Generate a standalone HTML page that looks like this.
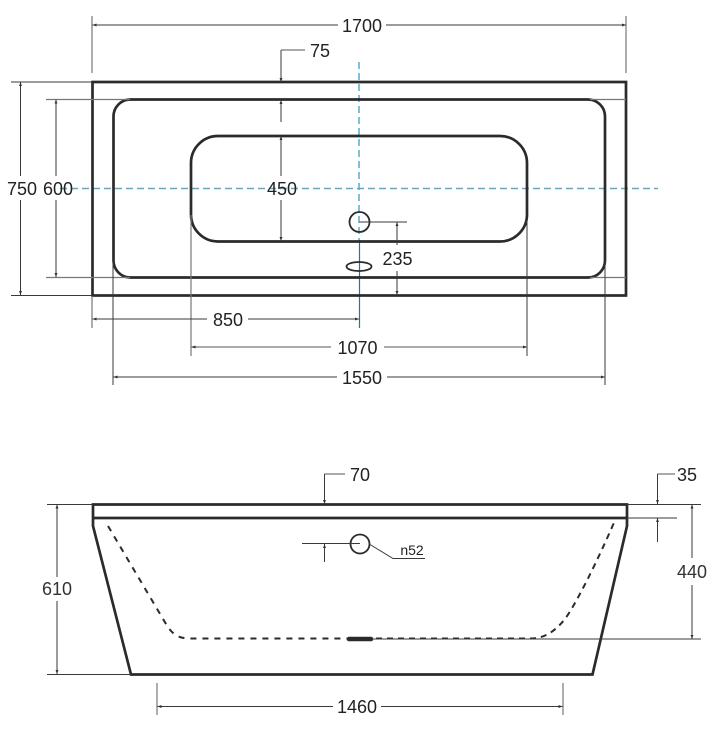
<!DOCTYPE html>
<html><head><meta charset="utf-8"><style>
html,body{margin:0;padding:0;background:#fff;width:719px;height:730px;overflow:hidden}
svg{display:block}
text{font-family:"Liberation Sans",sans-serif;font-size:18px;fill:#222;text-anchor:middle}
.o{fill:none;stroke:#2b2b2b;stroke-width:2.7}
.d{fill:none;stroke:#3a3a3a;stroke-width:1}
.g{fill:none;stroke:#777;stroke-width:1.2}
</style></head><body>
<svg width="719" height="730" viewBox="0 0 719 730" xmlns="http://www.w3.org/2000/svg">
<defs>
<marker id="m" viewBox="0 0 6 6" refX="6" refY="3" markerWidth="4" markerHeight="4" orient="auto-start-reverse" markerUnits="userSpaceOnUse"><path d="M0 .8L6 3L0 5.2z" fill="#333"/></marker>
</defs>
<!-- top view -->
<path d="M359.5 240V328" fill="none" stroke="#4a6a78" stroke-width="1.2"/>
<path d="M60 188.5H658" fill="none" stroke="#5aaacd" stroke-width="1.5" stroke-dasharray="7 4"/>
<path d="M359 62V240" fill="none" stroke="#5aaacd" stroke-width="1.5" stroke-dasharray="7 4"/>
<rect class="o" x="92.5" y="82" width="533.5" height="213.5"/>
<rect class="o" x="113.5" y="99.5" width="491.5" height="178" rx="17"/>
<rect class="o" x="191" y="136" width="336" height="105.5" rx="27"/>
<circle cx="359.5" cy="222" r="10" fill="none" stroke="#2b2b2b" stroke-width="1.8"/>
<ellipse cx="359" cy="266.5" rx="12.5" ry="4.5" fill="none" stroke="#2b2b2b" stroke-width="1.8"/>
<!-- top extension lines -->
<path class="g" d="M92 16V73M626 16V73"/>
<path class="d" d="M11 82H92M11 295.5H92"/>
<path class="g" d="M46 99.5H130M46 277.5H130M590 99.5H626M590 277.5H626"/>
<path class="g" d="M92 296V328M191 215V356"/>
<path class="d" d="M527 220V356M113 262V385M605 262V385M359.5 222H407"/>
<!-- top dims -->
<path class="d" marker-start="url(#m)" d="M92.5 25H338"/>
<path class="d" marker-end="url(#m)" d="M386 25H626"/>
<path class="g" d="M305 50H281"/><path class="d" marker-end="url(#m)" d="M281 50V82"/>
<text x="320" y="57">75</text>
<text x="362" y="32">1700</text>
<path class="d" marker-start="url(#m)" d="M20.5 82V176"/>
<path class="d" marker-end="url(#m)" d="M20.5 200V295"/>
<path class="d" marker-start="url(#m)" d="M56 99.5V176"/>
<path class="d" marker-end="url(#m)" d="M56 200V277"/>
<path class="d" marker-start="url(#m)" d="M281 100V122"/>
<path class="d" marker-start="url(#m)" d="M281 136V176"/>
<path class="d" marker-end="url(#m)" d="M281 200V241"/>
<text x="22" y="195">750</text>
<text x="58" y="195">600</text>
<text x="282" y="195">450</text>
<path class="d" marker-start="url(#m)" d="M397 222V245"/>
<path class="d" marker-end="url(#m)" d="M397 271V295"/>
<text x="397.5" y="265">235</text>
<path class="d" marker-start="url(#m)" d="M92.5 319H207"/>
<path class="d" marker-end="url(#m)" d="M248 319H359"/>
<text x="228" y="326">850</text>
<path class="g" marker-start="url(#m)" d="M191.5 347H331"/>
<path class="g" marker-end="url(#m)" d="M384 347H527"/>
<text x="357.5" y="354">1070</text>
<path class="d" marker-start="url(#m)" d="M113.5 377H337"/>
<path class="d" marker-end="url(#m)" d="M387 377H605"/>
<text x="362" y="384">1550</text>
<!-- side view -->
<path class="o" d="M93 504.5H627V526L592.5 674.5H131L93 526Z" stroke-linejoin="miter"/>
<path class="o" d="M93 518H627"/>
<path d="M108 526L166 624C172 634 178 638.5 190 638.500H347" fill="none" stroke="#2b2b2b" stroke-width="2" stroke-dasharray="6 6"/>
<path d="M376 638.500H532C546 638 556 630 565 619C576 604 598 560 616 518" fill="none" stroke="#2b2b2b" stroke-width="2" stroke-dasharray="6 5"/>
<path d="M349 639H371" stroke="#2b2b2b" stroke-width="4.5" stroke-linecap="round"/>
<circle cx="360" cy="544" r="9.5" fill="none" stroke="#2b2b2b" stroke-width="1.8"/>
<path class="d" d="M302 543.5H360"/>
<path class="d" marker-start="url(#m)" d="M324.5 544V562"/>
<path class="d" d="M370 544.500L393 558.500H425"/>
<text x="412" y="555" style="font-size:14px">n52</text>
<path class="d" d="M47 504.500H92M47 674.500H131M627 504.500H701M627 518H677M372 639H701"/>
<path class="d" marker-start="url(#m)" d="M57 504.500V577"/>
<path class="d" marker-end="url(#m)" d="M57 601V674"/>
<text x="57" y="595" style="fill:#333">610</text>
<path class="g" d="M345 474H324.500"/><path class="d" marker-end="url(#m)" d="M324.500 474V504"/>
<text x="360" y="481">70</text>
<path class="g" d="M675 474H657.500"/><path class="d" marker-end="url(#m)" d="M657.500 474V504"/>
<path class="d" marker-start="url(#m)" d="M657.500 518V542"/>
<text x="687" y="481">35</text>
<path class="d" marker-start="url(#m)" d="M692 504.500V558"/>
<path class="d" marker-end="url(#m)" d="M692 585V639"/>
<text x="692" y="578" style="fill:#333">440</text>
<path class="g" d="M157 683V715M563 683V715"/>
<path class="d" marker-start="url(#m)" d="M157.500 706.500H333"/>
<path class="d" marker-end="url(#m)" d="M381 706.500H562.500"/>
<text x="357" y="713">1460</text>
</svg>
</body></html>
